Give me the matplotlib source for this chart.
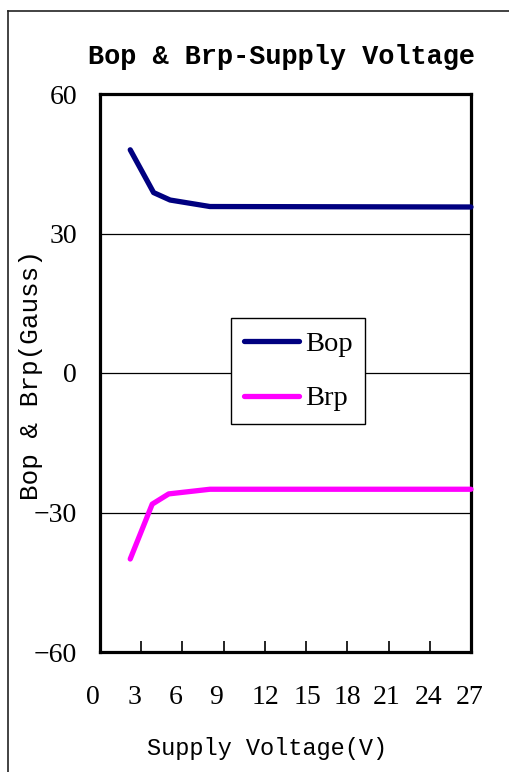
import matplotlib
matplotlib.use("Agg")
import matplotlib.pyplot as plt
from matplotlib.lines import Line2D
from matplotlib.transforms import ScaledTranslation

# ---- data ----
bop_x = [2.2, 3.9, 5.1, 8.0, 27.0]
bop_y = [48.0, 38.8, 37.2, 35.8, 35.7]
brp_x = [2.2, 3.8, 5.0, 8.0, 27.0]
brp_y = [-40.0, -28.2, -26.0, -25.0, -25.0]
series_names = ["Bop", "Brp"]
x_tick_values = [0, 3, 6, 9, 12, 15, 18, 21, 24, 27]
x_tick_labels = ["0", "3", "6", "9", "12", "15", "18", "21", "24", "27"]
y_tick_values = [-60, -30, 0, 30, 60]
y_tick_labels = ["\u221260", "\u221230", "0", "30", "60"]
title = "Bop & Brp-Supply Voltage"
x_label = "Supply Voltage(V)"
y_label = "Bop & Brp(Gauss)"

# layout: horizontal pixel offsets of x tick labels (as in reference)
x_label_offsets_px = [-7.5, -6.7, -6.9, -7.2, 0.6, 1.4, 0.2, -2.0, -1.3, -1.5]

W, H, DPI = 510, 772, 100
fig = plt.figure(figsize=(W / DPI, H / DPI), dpi=DPI)
fig.patch.set_facecolor("white")
ax = fig.add_axes([100 / W, 1 - 652 / H, 371 / W, 558 / H])

serif = "Liberation Serif"
mono = "Liberation Mono"

ax.plot(bop_x, bop_y, color="#000080", lw=3.8, solid_capstyle="round",
        solid_joinstyle="round", clip_on=False, label=series_names[0], zorder=4)
ax.plot(brp_x, brp_y, color="#FF00FF", lw=3.8, solid_capstyle="round",
        solid_joinstyle="round", clip_on=False, label=series_names[1], zorder=4)

ax.set_xlim(0, 27)
ax.set_ylim(-60, 60)

# gridlines at inner y ticks
for v in y_tick_values[1:-1]:
    ax.axhline(v, color="black", lw=0.9, zorder=1)

ax.set_yticks(y_tick_values)
ax.set_yticklabels(y_tick_labels, fontfamily=serif, fontsize=20)
ax.tick_params(axis="y", length=0, pad=16.5)

# inner tick marks on x axis
ax.set_xticks(x_tick_values[1:-1])
ax.set_xticklabels([])
ax.tick_params(axis="x", direction="in", length=8, width=1.2, pad=0)

for v, lab, dx in zip(x_tick_values, x_tick_labels, x_label_offsets_px):
    tr = ax.get_xaxis_transform() + ScaledTranslation(dx / DPI, -45 / DPI, fig.dpi_scale_trans)
    ax.text(v, 0, lab, transform=tr, ha="center", va="center",
            fontfamily=serif, fontsize=20, clip_on=False)

for s in ax.spines.values():
    s.set_linewidth(2.3)
    s.set_color("black")

leg = ax.legend(loc="center", bbox_to_anchor=(0.534, 0.503), frameon=True,
                fancybox=False, prop={"family": serif, "size": 20.5},
                handlelength=1.95, handletextpad=0.2, labelspacing=1.0,
                borderpad=0.45)
leg.get_frame().set_edgecolor("black")
leg.get_frame().set_linewidth(1.0)
leg.get_frame().set_facecolor("white")
leg.get_frame().set_alpha(1)
leg.set_zorder(5)

fig.text(281 / W, 1 - 64 / H, title, ha="center", va="baseline",
         fontfamily=mono, fontweight="bold", fontsize=19.4)
fig.text(267 / W, 1 - 755 / H, x_label, ha="center", va="baseline",
         fontfamily=mono, fontsize=17)
fig.text(38 / W, 1 - 375 / H, y_label, ha="center", va="baseline", rotation=90,
         rotation_mode="anchor", fontfamily=mono, fontsize=18.7)

# outer border (left and top)
fig.add_artist(Line2D([8 / W, 8 / W], [0, 1 - 11 / H], transform=fig.transFigure,
                      color="#222222", lw=1.2))
fig.add_artist(Line2D([8 / W, 1], [1 - 11 / H, 1 - 11 / H], transform=fig.transFigure,
                      color="#222222", lw=1.2))

fig.savefig("out.png", dpi=DPI)
